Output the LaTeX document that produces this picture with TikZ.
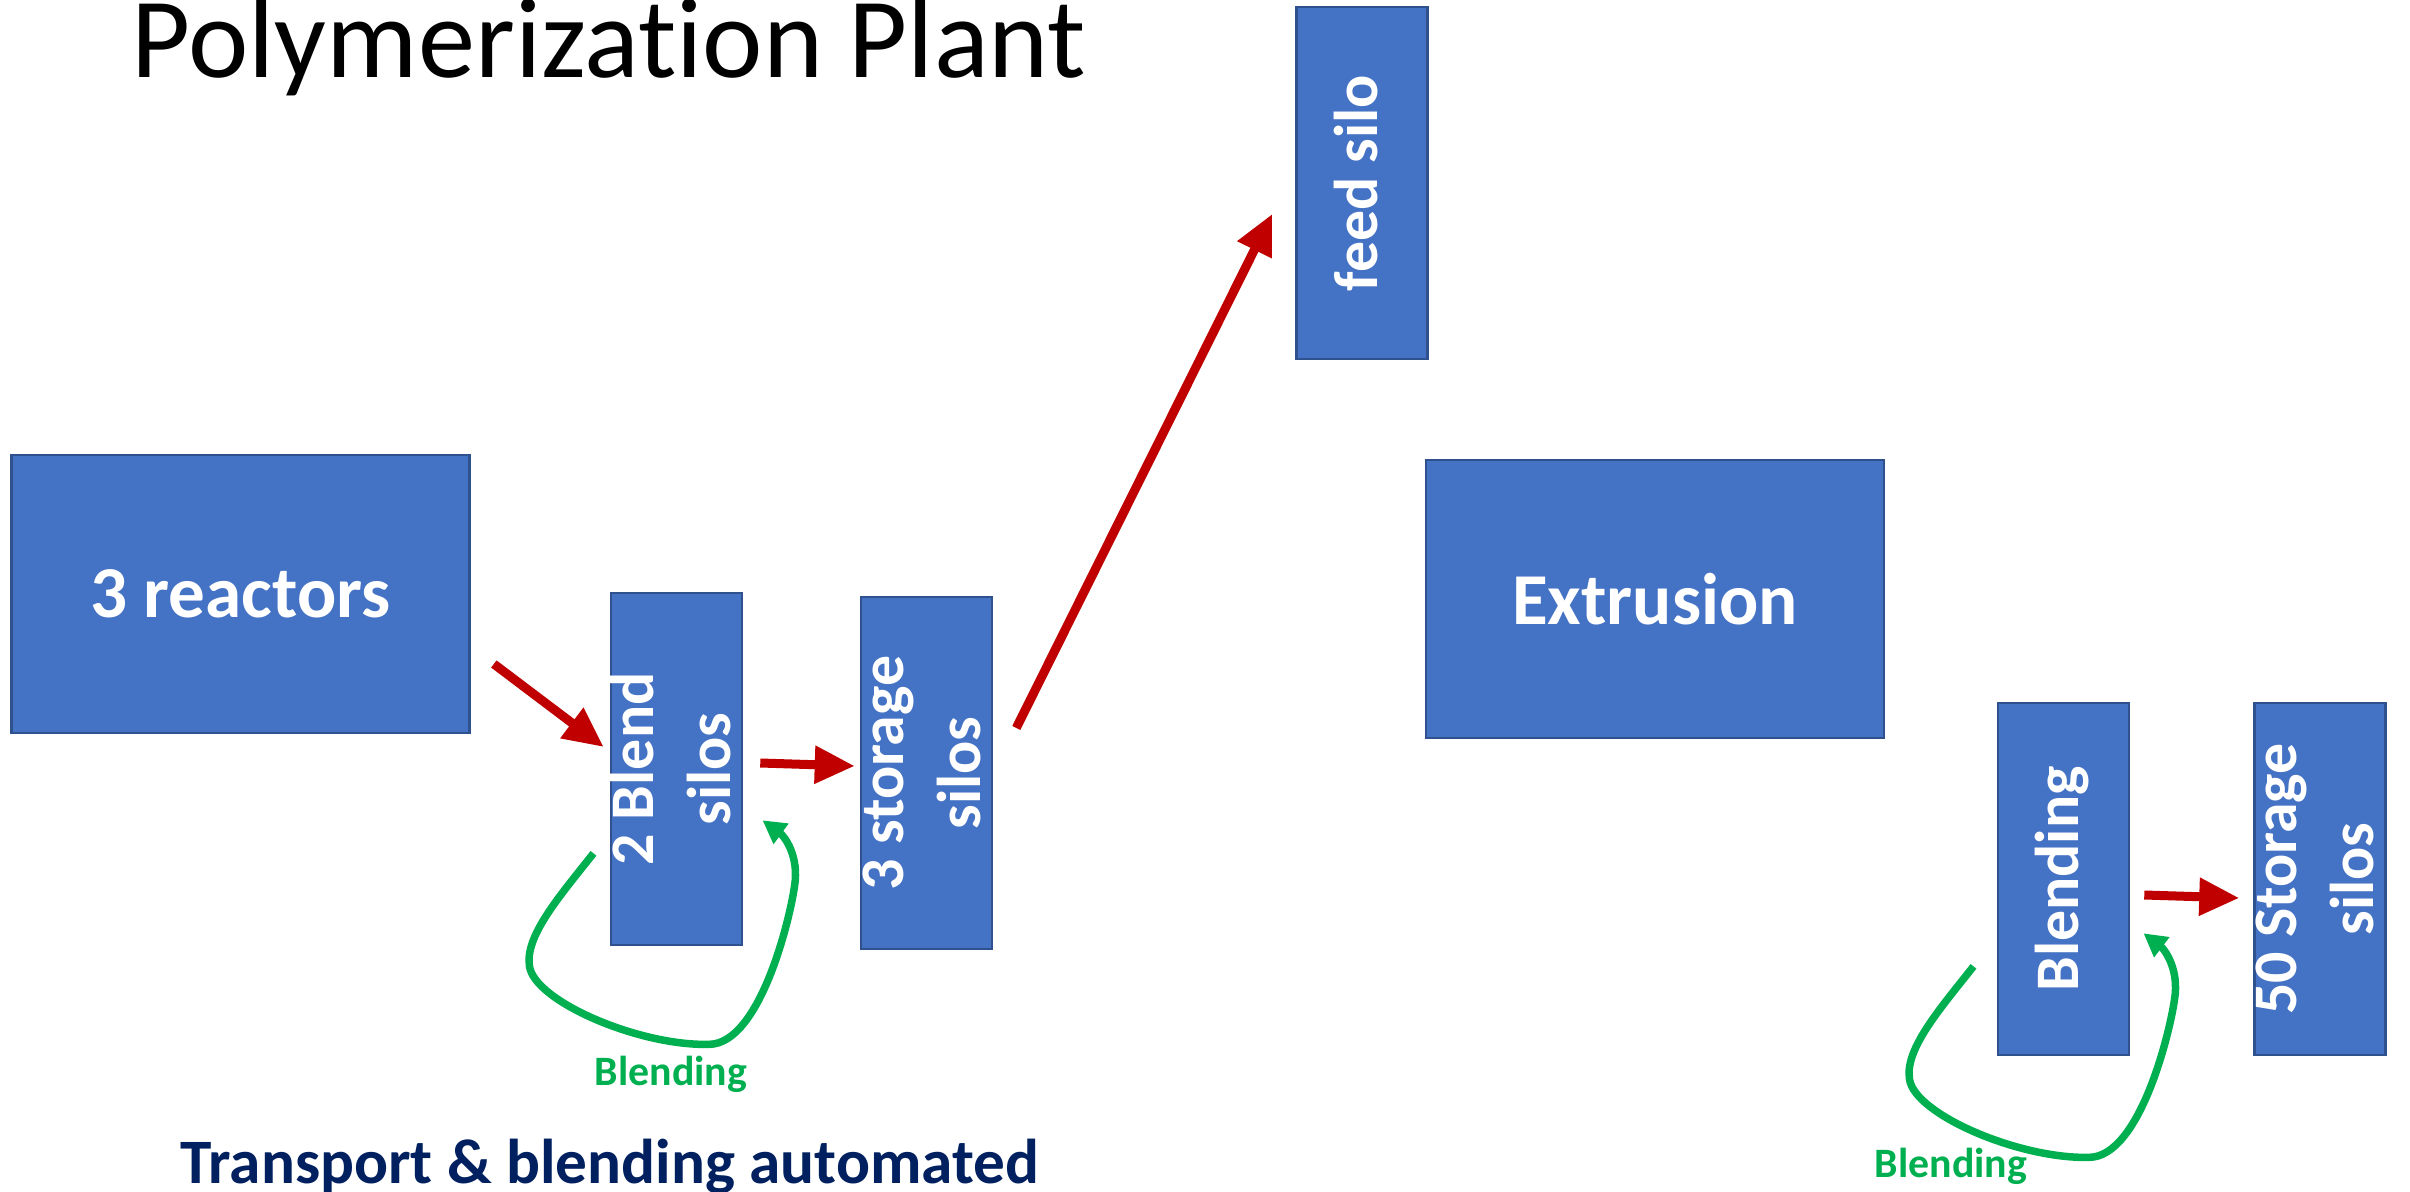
\documentclass[tikz,border=0pt]{standalone}
\usepackage{fontspec}
\setmainfont{Carlito}[Ligatures=NoCommon]
\usepackage{xcolor}
\usetikzlibrary{arrows.meta,calc,positioning}
\definecolor{siloblue}{HTML}{4472C4}
\definecolor{siloedge}{HTML}{2F528F}
\definecolor{flowred}{HTML}{C00000}
\definecolor{mixgreen}{HTML}{00B050}
\definecolor{navy}{HTML}{002060}
\tikzset{
  unit/.style={draw=siloedge,fill=siloblue,line width=0.7pt,text=white,
               inner sep=0pt,align=center},
  plantbox/.style={unit,minimum width=4.58cm,minimum height=2.78cm,
               font=\fontsize{20.8pt}{25pt}\selectfont\bfseries},
  silobox/.style={unit,minimum width=1.31cm,minimum height=3.52cm,
               font=\fontsize{17.6pt}{21.9pt}\selectfont\bfseries},
  transfer/.style={-{Triangle[length=4mm,width=3.6mm]},line width=0.9mm,draw=flowred},
  recycle/.style={-{Triangle[length=2.3mm,width=2.4mm]},line width=0.75mm,draw=mixgreen},
  looplabel/.style={text=mixgreen,font=\fontsize{11.9pt}{14pt}\selectfont\bfseries,
               inner sep=0pt,anchor=base}
}
% silo captions run bottom to top and may overhang the silo width
\newcommand{\silotext}[1]{\makebox[0pt]{\rotatebox{90}{\raisebox{-2pt}{\begin{tabular}{@{}c@{}}#1\end{tabular}}}}}

\begin{document}
\begin{tikzpicture}[x=0.01cm,y=-0.01cm]
  \fill[white] (0,0) rectangle (2410,1192);
  \useasboundingbox (0,0) rectangle (2410,1192);

  \node[anchor=base west,inner sep=0pt,font=\fontsize{32.3pt}{38pt}\selectfont] (title) at (131,78)
    {\resizebox{9.54cm}{!}{Polymerization Plant}};

  % reactor side
  \node[plantbox] (reactors) at (240.5,594) {3 reactors};
  \node[silobox] (blend) at (676.5,769) {\silotext{2 Blend\\silos}};
  \node[silobox] (storage) at (926.5,773) {\silotext{3 storage\\silos}};
  \node[silobox] (feed) at (1362,183) {\silotext{feed silo}};

  % extrusion side
  \node[plantbox] (extrusion) at (1655,599) {Extrusion};
  \node[silobox] (mixer) at (2063.5,879) {\silotext{Blending}};
  \node[silobox] (store) at (2320,879) {\silotext{50 Storage\\silos}};

  \draw[transfer] ([shift={(23,70)}]reactors.east) -- ([shift={(-6,-22)}]blend.west);
  \draw[transfer] ([shift={(17,-6)}]blend.east) -- ([shift={(-5,-7)}]storage.west);
  \draw[transfer] ([shift={(23,-45)}]storage.east) -- ([shift={(-23,31)}]feed.west);
  \draw[transfer] ([shift={(14,16)}]mixer.east) -- ([shift={(-14,19)}]store.west);

  % blending loops under the silos
  \draw[recycle,shift={(blend.south)}] (-83,-93) .. controls (-117,-50) and (-152,-10) .. (-147,20)
    .. controls (-142,55) and (-37,100) .. (33,98)
    .. controls (83,97) and (113,-25) .. (118,-60)
    .. controls (123,-90) and (108,-110) .. (86,-126);
  \draw[recycle,shift={(mixer.south)}] (-90,-90) .. controls (-124,-47) and (-159,-7) .. (-154,23)
    .. controls (-149,58) and (-44,103) .. (26,101)
    .. controls (76,100) and (106,-22) .. (111,-57)
    .. controls (116,-87) and (101,-107) .. (80,-123);
  \node[looplabel] (mixnote) at (671,1085) {Blending};
  \node[looplabel] (mixnote2) at (1951,1177) {Blending};

  \node[anchor=base west,inner sep=0pt,text=navy,font=\fontsize{18pt}{22pt}\selectfont\bfseries] (motto) at (180,1183) {Transport \& blending automated};
\end{tikzpicture}
\end{document}
